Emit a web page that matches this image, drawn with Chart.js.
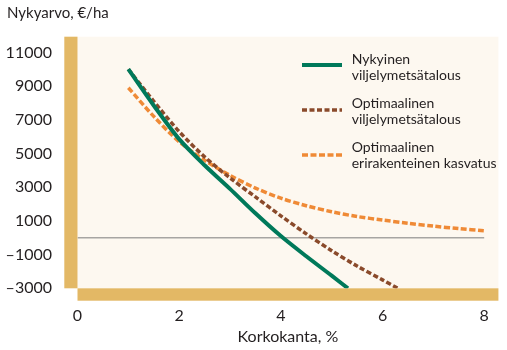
<!DOCTYPE html>
<html><head><meta charset="utf-8">
<script src="https://cdn.jsdelivr.net/npm/chart.js@4/dist/chart.umd.min.js"></script>
<style>html,body{margin:0;padding:0;background:#fff;} #wrap{width:507px;height:350px;}</style>
</head><body><div id="wrap"><canvas id="c" width="507" height="350"></canvas></div>
<script>
const chartTitle = "Nykyarvo, €/ha";
const xAxisTitle = "Korkokanta, %";
const ratesGreen = [1, 1.5, 2, 2.5, 3, 3.5, 4, 4.5, 5, 5.32];
const valuesGreen = [10000, 7850, 5850, 4300, 2900, 1450, 100, -1100, -2250, -3000];
const ratesBrown = [1, 1.5, 2, 2.5, 3, 3.5, 4, 4.5, 5, 5.5, 6, 6.3];
const valuesBrown = [10000, 8100, 6300, 4800, 3550, 2420, 1300, 230, -770, -1680, -2500, -3000];
const ratesOrange = [1, 1.5, 2, 2.5, 3, 3.5, 4, 4.5, 5, 5.5, 6, 6.5, 7, 7.5, 8];
const valuesOrange = [8900, 7200, 5700, 4600, 3700, 2950, 2350, 1900, 1540, 1260, 1050, 860, 690, 540, 410];
const zeroLineRates = [0, 8];
const zeroLineValues = [0, 0];
const xTicks = [0, 2, 4, 6, 8];
const yTicks = [-3000, -1000, 1000, 3000, 5000, 7000, 9000, 11000];
const seriesNames = [["Nykyinen", "viljelymetsätalous"], ["Optimaalinen", "viljelymetsätalous"], ["Optimaalinen", "erirakenteinen kasvatus"]];

const FONT = "Lato, 'Open Sans', sans-serif";
const TEXT = "#231f20";
const GREEN = "#00795a", BROWN = "#8a4a2b", ORANGE = "#ef8a36", TAN = "#e3b865", CREAM = "#fdf8f0";

function pts(xs, ys) { return xs.map((x, i) => ({x: x, y: ys[i]})); }

const styles = [
  {color: GREEN, width: 4, dash: []},
  {color: BROWN, width: 3.5, dash: [5, 2.5]},
  {color: ORANGE, width: 3.5, dash: [6, 2.5]}
];

const decor = {
  id: 'decor',
  beforeDraw(chart) {
    const {ctx, chartArea: a} = chart;
    ctx.save();
    ctx.fillStyle = '#ffffff';
    ctx.fillRect(0, 0, chart.width, chart.height);
    ctx.fillStyle = CREAM;
    ctx.fillRect(a.left, a.top, a.right - a.left, a.bottom - a.top);
    ctx.fillStyle = TAN;
    ctx.fillRect(64.3, a.top, a.left - 64.3, a.bottom - a.top);
    ctx.fillRect(a.left, a.bottom, a.right - a.left, 12.4);
    ctx.restore();
  },
  afterDraw(chart) {
    const {ctx} = chart;
    ctx.save();
    ctx.fillStyle = TEXT;
    ctx.font = "15px " + FONT;
    ctx.textBaseline = 'alphabetic';
    ctx.textAlign = 'left';
    ctx.fillText(chartTitle, 7, 18);
    const sampleY = [65, 110, 155];
    const textY = [59.5, 103, 147];
    ctx.font = "14px " + FONT;
    ctx.textBaseline = 'middle';
    for (let i = 0; i < 3; i++) {
      const s = styles[i];
      ctx.strokeStyle = s.color;
      ctx.lineWidth = s.width;
      ctx.setLineDash(s.dash);
      ctx.beginPath();
      ctx.moveTo(302, sampleY[i]);
      ctx.lineTo(342, sampleY[i]);
      ctx.stroke();
      ctx.setLineDash([]);
      ctx.fillStyle = TEXT;
      ctx.fillText(seriesNames[i][0], 351.7, textY[i]);
      ctx.fillText(seriesNames[i][1], 351.7, textY[i] + 16);
    }
    ctx.restore();
  }
};

function ds(i, xs, ys) {
  const s = styles[i];
  return {
    data: pts(xs, ys), showLine: true, borderColor: s.color, borderWidth: s.width,
    borderDash: s.dash, pointRadius: 0, tension: 0.3,
    fill: false, borderCapStyle: 'butt', borderJoinStyle: 'round'
  };
}

new Chart(document.getElementById('c'), {
  type: 'scatter',
  data: {
    datasets: [
      ds(0, ratesGreen, valuesGreen),
      ds(1, ratesBrown, valuesBrown),
      ds(2, ratesOrange, valuesOrange),
      {data: pts(zeroLineRates, zeroLineValues), showLine: true, borderColor: '#a7a5a2', borderWidth: 1.5, pointRadius: 0, fill: false}
    ]
  },
  options: {
    responsive: false, animation: false, devicePixelRatio: 1,
    layout: {padding: {top: 36.7, right: 5, left: 0, bottom: 0}},
    plugins: {legend: {display: false}, tooltip: {enabled: false}, title: {display: false}},
    scales: {
      x: {
        type: 'linear', min: 0, max: 8.28,
        afterBuildTicks: s => { s.ticks = xTicks.map(v => ({value: v})); },
        afterFit: s => { s.height = 61.7; },
        grid: {display: false, drawTicks: false}, border: {display: false},
        ticks: {font: {size: 16, family: FONT}, color: TEXT, padding: 18, maxRotation: 0, callback: v => String(v)},
        title: {display: true, text: xAxisTitle, font: {size: 16, family: FONT}, color: TEXT, padding: {top: 0, bottom: 4}}
      },
      y: {
        type: 'linear', min: -3000, max: 11930,
        afterBuildTicks: s => { s.ticks = yTicks.map(v => ({value: v})); },
        afterFit: s => { s.width = 77.5; },
        grid: {display: false, drawTicks: false}, border: {display: false},
        ticks: {font: {size: 16, family: FONT}, color: TEXT, padding: 25.5,
          callback: v => v < 0 ? '\u2013' + Math.abs(v) : String(v)}
      }
    }
  },
  plugins: [decor]
});
</script>
</body></html>
